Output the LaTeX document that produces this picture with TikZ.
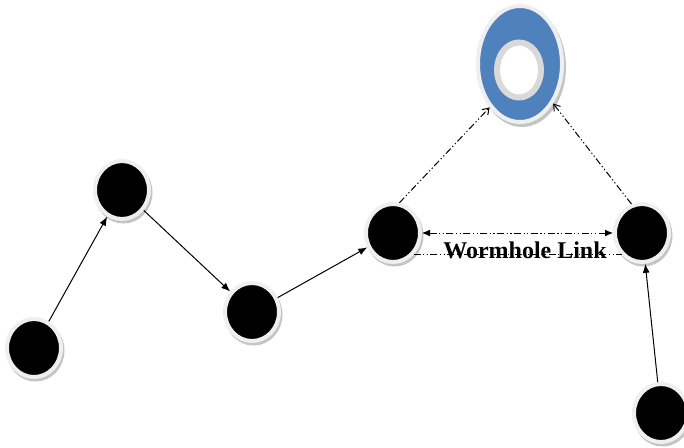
\documentclass[tikz,border=0pt]{standalone}
\usepackage{fontspec}
\setmainfont{Liberation Serif}
\usetikzlibrary{arrows.meta,shapes.geometric}
\definecolor{ringblue}{HTML}{4F81BD}
\definecolor{rimgray}{HTML}{EFEFEF}
\definecolor{shadowgray}{HTML}{C4C4C4}
\tikzset{
  blob/.style={ellipse, fill=black, draw=rimgray, line width=4pt, inner sep=0pt,
    minimum width=54pt, minimum height=58pt,
    preaction={draw=shadowgray, line width=4pt, transform canvas={shift={(1.5pt,-2.5pt)}}}},
  ringnode/.style={ellipse, fill=ringblue, draw=rimgray, line width=4pt, inner sep=0pt,
    minimum width=84pt, minimum height=116pt,
    preaction={draw=shadowgray, line width=4pt, transform canvas={shift={(2pt,-3pt)}}}},
  holenode/.style={ellipse, fill=white, draw=white!85!black, line width=6pt, inner sep=0pt,
    minimum width=44pt, minimum height=55pt},
  solidarrow/.style={line width=1pt, -{Latex[length=9pt,width=7pt]}},
  dashdotdot/.style={line width=1pt, dash pattern=on 7pt off 2.5pt on 1.2pt off 2.5pt on 1.2pt off 2.5pt},
  openarrow/.style={dashdotdot, -{Straight Barb[length=6pt,width=8pt]}},
  wormarrow/.style={dashdotdot, {Latex[length=8pt,width=7pt]}-{Latex[length=8pt,width=7pt]}},
  lbl/.style={font=\fontsize{24}{28}\selectfont\bfseries, inner sep=0pt}
}
\begin{document}
\begin{tikzpicture}[x=1pt,y=-1pt]
\useasboundingbox (0,0) rectangle (684,447);
\fill[white] (0,0) rectangle (684,447);
\node[blob] (n1) at (34,348) {};
\node[blob] (n2) at (122,190) {};
\node[blob] (n3) at (252,312) {};
\node[blob] (n4) at (393,233) {};
\node[blob] (n5) at (642,233) {};
\node[blob] (n6) at (661,413) {};
\node[ringnode] (ring) at (520,64) {};
\node[holenode] (hole) at (519,70) {};

\draw[solidarrow] (n1) -- (n2);
\draw[solidarrow] (n2) -- (n3);
\draw[solidarrow] (n3) -- (n4);
\draw[solidarrow] (n6) -- (n5);
\draw[openarrow] (n4.78) -- (ring.235);
\draw[openarrow] (n5.110) -- (ring.310);
\draw[wormarrow] (n4.east) -- (n5.west);
\draw[dashdotdot] (n4.south east) -- (n5.south west);
\node[lbl] (wl) at (525,250) {Wormhole Link};
\end{tikzpicture}
\end{document}
